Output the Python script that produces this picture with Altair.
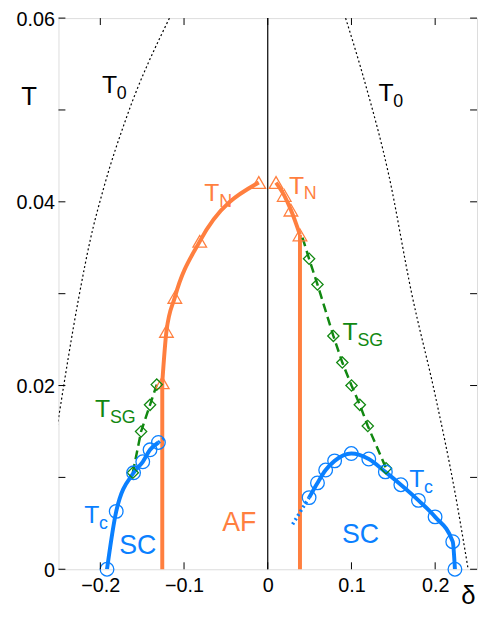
import altair as alt
import pandas as pd

# ---------------- data ----------------
# T_N (orange triangles)
tn_left_x = [-0.126, -0.121, -0.111, -0.0812, -0.0107]
tn_left_y = [0.0203, 0.0259, 0.0296, 0.0357, 0.0421]
tn_right_x = [0.0099, 0.0197, 0.0277, 0.0385]
tn_right_y = [0.0421, 0.0407, 0.0391, 0.0364]
# AF phase boundaries (vertical orange lines)
af_edge_x = [-0.126, 0.0385]
af_edge_top = [0.0203, 0.0364]
# T_SG (green diamonds)
tsg_left_x = [-0.1612, -0.1513, -0.1406, -0.1326]
tsg_left_y = [0.0105, 0.0150, 0.0179, 0.0201]
tsg_right_x = [0.0494, 0.0594, 0.0784, 0.0891, 0.1001, 0.110, 0.1195, 0.1413]
tsg_right_y = [0.0338, 0.0310, 0.0254, 0.0225, 0.0200, 0.0179, 0.0156, 0.0110]
tsg_right_line_x = [0.0415] + tsg_right_x
tsg_right_line_y = [0.0361] + tsg_right_y
# T_c (blue circles)
tc_left_x = [-0.192, -0.181, -0.1603, -0.1493, -0.1406, -0.1306]
tc_left_y = [0.0, 0.0063, 0.0105, 0.0117, 0.0130, 0.0138]
tc_left_ext_x = [-0.1306, -0.1216]
tc_left_ext_y = [0.0138, 0.0144]
tc_right_x = [0.0494, 0.0594, 0.0692, 0.0799, 0.0998, 0.1207, 0.1405, 0.159, 0.180, 0.1999, 0.221, 0.2236]
tc_right_y = [0.0078, 0.0094, 0.0108, 0.0118, 0.0126, 0.0120, 0.0106, 0.0092, 0.0075, 0.0057, 0.0030, 0.0]
tc_right_ext_x = [0.0297, 0.0494]
tc_right_ext_y = [0.0049, 0.0078]
# T_0 (black dotted)
t0_left_x = [-0.2514, -0.2257, -0.2119, -0.196, -0.1683, -0.1169]
t0_left_y = [0.0156, 0.0296, 0.0359, 0.0415, 0.0493, 0.0601]
t0_right_x = [0.093, 0.1167, 0.1444, 0.172, 0.1999, 0.2236, 0.2394]
t0_right_y = [0.0600, 0.0528, 0.0430, 0.0300, 0.0190, 0.0084, 0.0]

# labels
lab_x = [-0.198, 0.1322, -0.0757, 0.0253, -0.2063, 0.0894, -0.2193, 0.169]
lab_y = [0.0518, 0.0510, 0.0401, 0.0409, 0.0166, 0.0250, 0.0050, 0.0089]
lab_main = ["T", "T", "T", "T", "T", "T", "T", "T"]
lab_sub = ["0", "0", "N", "N", "SG", "SG", "c", "c"]
lab_color = ["black", "black", "#FF7F3F", "#FF7F3F", "#118811", "#118811", "#0A80FF", "#0A80FF"]
region_x = [-0.1552, 0.1108, -0.0341]
region_y = [0.0017, 0.0029, 0.0042]
region_text = ["SC", "SC", "AF"]
region_color = ["#0A80FF", "#0A80FF", "#FF7F3F"]

x_ticks = [-0.2, -0.1, 0.0, 0.1, 0.2]
y_ticks = [0.0, 0.01, 0.02, 0.03, 0.04, 0.05, 0.06]
y_labels = [0.0, 0.02, 0.04, 0.06]

ORANGE = "#FF7F3F"
BLUE = "#0A80FF"
GREEN = "#118811"
FONT = "Liberation Sans"
W, H = 423, 557

xs = alt.Scale(domain=[-0.25, 0.25], nice=False, zero=False)
ys = alt.Scale(domain=[0, 0.06], nice=False, zero=False)

xax = alt.Axis(values=x_ticks, labelExpr="datum.value == 0 ? '0' : format(datum.value, '.1f')",
               labelFontSize=20, labelPadding=6, tickSize=0, domain=False, grid=False,
               title="δ", titleFontSize=26, titleFontWeight="normal", titleX=W - 2, titleY=35,
               titleAlign="right", titleBaseline="alphabetic", labelFlush=False)
yax = alt.Axis(values=y_labels, labelExpr="datum.value == 0 ? '0' : format(datum.value, '.2f')",
               labelFontSize=20, labelPadding=4, tickSize=0, domain=False, grid=False,
               labelOffset=1,
               title="T", titleFontSize=26, titleFontWeight="normal", titleAngle=0,
               titleX=-38, titleY=87, titleAlign="left", titleBaseline="alphabetic",
               labelFlush=False)


def X(f):
    return alt.X(f, type="quantitative", scale=xs, axis=xax)


def Y(f):
    return alt.Y(f, type="quantitative", scale=ys, axis=yax)


def df(xv, yv):
    return pd.DataFrame({"x": xv, "y": yv})


def curve(xv, yv, color, width=4, dash=None, interp="monotone"):
    kw = dict(color=color, strokeWidth=width, interpolate=interp, clip=True)
    if dash:
        kw["strokeDash"] = dash
    return alt.Chart(df(xv, yv)).mark_line(**kw).encode(x=X("x"), y=Y("y"))


def pts(xv, yv, color, shape, size, sw=1.3):
    return alt.Chart(df(xv, yv)).mark_point(shape=shape, filled=False, size=size,
                                            color=color, strokeWidth=sw, opacity=1).encode(x=X("x"), y=Y("y"))


layers = []
# zero line
layers.append(alt.Chart(pd.DataFrame({"x": [0.0], "y": [0.0], "y2": [0.06]})).mark_rule(
    color="black", strokeWidth=1.2).encode(x=X("x"), y=Y("y"), y2="y2"))
# T0 dotted
layers.append(curve(t0_left_x, t0_left_y, "black", 1.2, [2, 2.5]))
layers.append(curve(t0_right_x, t0_right_y, "black", 1.2, [2, 2.5]))
# AF edges
layers.append(alt.Chart(pd.DataFrame({"x": af_edge_x, "y": [0.0, 0.0], "y2": af_edge_top})).mark_rule(
    color=ORANGE, strokeWidth=4).encode(x=X("x"), y=Y("y"), y2="y2"))
# TN curves
layers.append(curve(tn_left_x, tn_left_y, ORANGE, 4))
layers.append(curve(tn_right_x, tn_right_y, ORANGE, 4))
# TSG dashed
layers.append(curve(tsg_left_x, tsg_left_y, GREEN, 2.5, [9, 5], "linear"))
layers.append(curve(tsg_right_line_x, tsg_right_line_y, GREEN, 2.5, [9, 5], "linear"))
# Tc curves
layers.append(curve(tc_left_x, tc_left_y, BLUE, 4))
layers.append(curve(tc_right_x, tc_right_y, BLUE, 4))
layers.append(curve(tc_left_ext_x, tc_left_ext_y, BLUE, 3.5, [2, 3], "linear"))
layers.append(curve(tc_right_ext_x, tc_right_ext_y, BLUE, 3.5, [2, 3], "linear"))
# markers
layers.append(pts(tn_left_x, tn_left_y, ORANGE, "triangle-up", 190))
layers.append(pts(tn_right_x, tn_right_y, ORANGE, "triangle-up", 190))
layers.append(pts(tsg_left_x, tsg_left_y, GREEN, "diamond", 130))
layers.append(pts(tsg_right_x, tsg_right_y, GREEN, "diamond", 130))
layers.append(pts(tc_left_x, tc_left_y, BLUE, "circle", 190))
layers.append(pts(tc_right_x, tc_right_y, BLUE, "circle", 190))

# labels
ldf = pd.DataFrame({"x": lab_x, "y": lab_y, "main": lab_main, "sub": lab_sub, "c": lab_color})
layers.append(alt.Chart(ldf).mark_text(align="left", baseline="alphabetic", fontSize=25, font=FONT).encode(
    x=X("x"), y=Y("y"), text="main:N", color=alt.Color("c:N", scale=None)))
layers.append(alt.Chart(ldf).mark_text(align="left", baseline="alphabetic", fontSize=18, font=FONT,
                                       dx=15, dy=6).encode(
    x=X("x"), y=Y("y"), text="sub:N", color=alt.Color("c:N", scale=None)))
rdf = pd.DataFrame({"x": region_x, "y": region_y, "t": region_text, "c": region_color})
layers.append(alt.Chart(rdf).mark_text(align="center", baseline="alphabetic", fontSize=27, font=FONT).encode(
    x=X("x"), y=Y("y"), text="t:N", color=alt.Color("c:N", scale=None)))

# inward ticks on all four sides
xt = pd.DataFrame({"v": x_ticks})
yt = pd.DataFrame({"v": y_ticks})
layers.append(alt.Chart(xt).mark_rule(color="black", strokeWidth=1).encode(
    x=X("v"), y=alt.value(H), y2=alt.value(H - 7)))
layers.append(alt.Chart(xt).mark_rule(color="black", strokeWidth=1).encode(
    x=X("v"), y=alt.value(0), y2=alt.value(7)))
layers.append(alt.Chart(yt).mark_rule(color="black", strokeWidth=1).encode(
    y=Y("v"), x=alt.value(0), x2=alt.value(7)))
layers.append(alt.Chart(yt).mark_rule(color="black", strokeWidth=1).encode(
    y=Y("v"), x=alt.value(W), x2=alt.value(W - 7)))

chart = alt.layer(*layers).properties(
    width=W, height=H,
    autosize=alt.AutoSizeParams(type="none"),
    padding={"left": 51, "top": 7, "right": 2, "bottom": 41},
).configure_view(stroke="black", strokeWidth=1.2).configure_axis(
    labelFont=FONT, titleFont=FONT, labelColor="black", titleColor="black"
).configure(background="white")

chart.save("out.html", embed_options={"renderer": "svg", "actions": False})
